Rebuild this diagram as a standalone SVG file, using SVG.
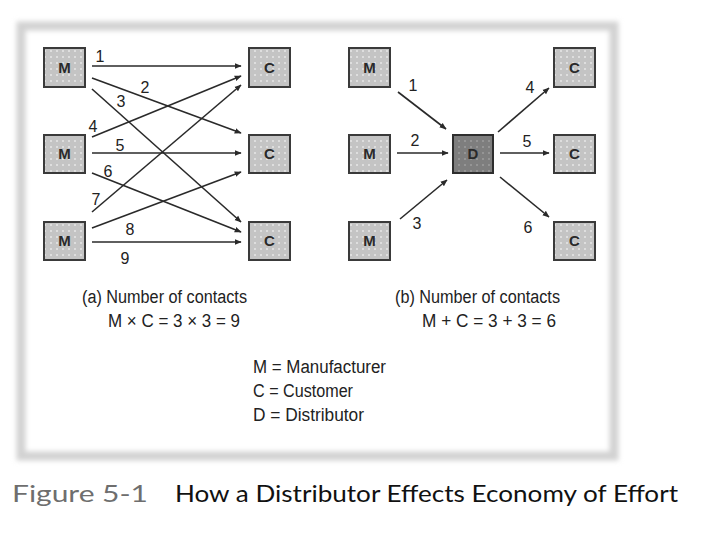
<svg xmlns="http://www.w3.org/2000/svg" width="720" height="540" viewBox="0 0 720 540">
<defs>
  <filter id="blur" x="-5%" y="-5%" width="110%" height="110%"><feGaussianBlur stdDeviation="2.5"/></filter>
  <pattern id="dots" width="6" height="6" patternUnits="userSpaceOnUse">
    <rect width="6" height="6" fill="#c4c4c4"/>
    <rect x="2" y="2" width="2" height="2" fill="#dedede"/>
  </pattern>
  <pattern id="dotsD" width="6" height="6" patternUnits="userSpaceOnUse">
    <rect width="6" height="6" fill="#7e7e7e"/>
    <rect x="2" y="2" width="2" height="2" fill="#959595"/>
  </pattern>
  <marker id="ah" viewBox="0 0 10 10" refX="9" refY="5" markerWidth="7" markerHeight="7" orient="auto" markerUnits="userSpaceOnUse">
    <path d="M0,1 L10,5 L0,9 z" fill="#2a2a2a"/>
  </marker>
</defs>
<style>
  .box { fill: url(#dots); stroke: #3a3a3a; stroke-width: 2; }
  .dbox { fill: url(#dotsD); stroke: #2e2e2e; stroke-width: 2; }
  .bl { font-family: "Liberation Sans", Arial, sans-serif; font-size: 15px; font-weight: bold; fill: #2a2a2a; text-anchor: middle; }
  .num { font-family: "Liberation Sans", Arial, sans-serif; font-size: 16px; fill: #222; text-anchor: middle; }
  .lbl { font-family: "Liberation Sans", Arial, sans-serif; font-size: 18px; fill: #222; }
  .con { stroke: #2a2a2a; stroke-width: 1.6; fill: none; marker-end: url(#ah); }
  .cap { font-family: Lato, "Open Sans", sans-serif; font-size: 24px; }
</style>
<rect x="0" y="0" width="720" height="540" fill="#ffffff"/>
<g id="frame">
  <rect x="21" y="26" width="593" height="430" fill="none" stroke="#d2d2d2" stroke-width="9" filter="url(#blur)"/>
</g>

<g id="connectors">
  <!-- left -->
  <line class="con" x1="92" y1="66" x2="241" y2="66"/>
  <line class="con" x1="92" y1="78" x2="241" y2="133"/>
  <line class="con" x1="92" y1="89" x2="241" y2="222"/>
  <line class="con" x1="92" y1="137" x2="241" y2="76"/>
  <line class="con" x1="92" y1="153" x2="241" y2="153"/>
  <line class="con" x1="92" y1="173" x2="241" y2="232"/>
  <line class="con" x1="92" y1="212" x2="241" y2="85"/>
  <line class="con" x1="92" y1="228" x2="241" y2="172"/>
  <line class="con" x1="92" y1="242" x2="241" y2="242"/>
  <!-- right -->
  <line class="con" x1="398" y1="92" x2="446" y2="129"/>
  <line class="con" x1="397" y1="153" x2="448" y2="153"/>
  <line class="con" x1="400" y1="219" x2="447" y2="180"/>
  <line class="con" x1="498" y1="132" x2="549" y2="88"/>
  <line class="con" x1="500" y1="153" x2="549" y2="153"/>
  <line class="con" x1="500" y1="177" x2="549" y2="217"/>
  <!-- numbers -->
  <text class="num" x="100" y="62">1</text>
  <text class="num" x="145" y="93">2</text>
  <text class="num" x="121" y="107">3</text>
  <text class="num" x="93" y="132">4</text>
  <text class="num" x="120" y="151">5</text>
  <text class="num" x="108" y="177">6</text>
  <text class="num" x="96" y="205">7</text>
  <text class="num" x="130" y="235">8</text>
  <text class="num" x="125" y="264">9</text>
  <text class="num" x="413" y="91">1</text>
  <text class="num" x="415" y="146">2</text>
  <text class="num" x="417" y="229">3</text>
  <text class="num" x="530" y="93">4</text>
  <text class="num" x="527" y="147">5</text>
  <text class="num" x="528" y="233">6</text>
</g>

<g id="m1-left"><rect class="box" x="44" y="48" width="41" height="39"/><text class="bl" x="64.5" y="73">M</text></g>
<g id="m2-left"><rect class="box" x="44" y="135" width="41" height="38"/><text class="bl" x="64.5" y="159">M</text></g>
<g id="m3-left"><rect class="box" x="44" y="222" width="41" height="38"/><text class="bl" x="64.5" y="246">M</text></g>
<g id="c1-left"><rect class="box" x="249" y="48" width="41" height="39"/><text class="bl" x="269.5" y="73">C</text></g>
<g id="c2-left"><rect class="box" x="249" y="135" width="41" height="38"/><text class="bl" x="269.5" y="159">C</text></g>
<g id="c3-left"><rect class="box" x="249" y="222" width="41" height="38"/><text class="bl" x="269.5" y="246">C</text></g>

<g id="m1-right"><rect class="box" x="349" y="48" width="41" height="39"/><text class="bl" x="369.5" y="73">M</text></g>
<g id="m2-right"><rect class="box" x="349" y="135" width="41" height="38"/><text class="bl" x="369.5" y="159">M</text></g>
<g id="m3-right"><rect class="box" x="349" y="222" width="41" height="38"/><text class="bl" x="369.5" y="246">M</text></g>
<g id="d"><rect class="dbox" x="453" y="135" width="40" height="38"/><text class="bl" x="473" y="159">D</text></g>
<g id="c1-right"><rect class="box" x="554" y="48" width="41" height="39"/><text class="bl" x="574.5" y="73">C</text></g>
<g id="c2-right"><rect class="box" x="554" y="135" width="41" height="38"/><text class="bl" x="574.5" y="159">C</text></g>
<g id="c3-right"><rect class="box" x="554" y="222" width="41" height="38"/><text class="bl" x="574.5" y="246">C</text></g>

<g id="labels">
  <text class="lbl" x="82" y="303" textLength="165" lengthAdjust="spacingAndGlyphs">(a) Number of contacts</text>
  <text class="lbl" x="108" y="327" textLength="132" lengthAdjust="spacingAndGlyphs">M × C = 3 × 3 = 9</text>
  <text class="lbl" x="395" y="303" textLength="165" lengthAdjust="spacingAndGlyphs">(b) Number of contacts</text>
  <text class="lbl" x="422" y="327" textLength="134" lengthAdjust="spacingAndGlyphs">M + C = 3 + 3 = 6</text>
  <text class="lbl" x="253" y="373" textLength="133" lengthAdjust="spacingAndGlyphs">M = Manufacturer</text>
  <text class="lbl" x="253" y="397" textLength="100" lengthAdjust="spacingAndGlyphs">C = Customer</text>
  <text class="lbl" x="253" y="421" textLength="111" lengthAdjust="spacingAndGlyphs">D = Distributor</text>
</g>

<g id="caption">
  <text class="cap" x="12" y="502" fill="#6e6e6e" textLength="136" lengthAdjust="spacingAndGlyphs">Figure 5-1</text>
  <text class="cap" x="175" y="502" fill="#111" textLength="503" lengthAdjust="spacingAndGlyphs">How a Distributor Effects Economy of Effort</text>
</g>
</svg>
